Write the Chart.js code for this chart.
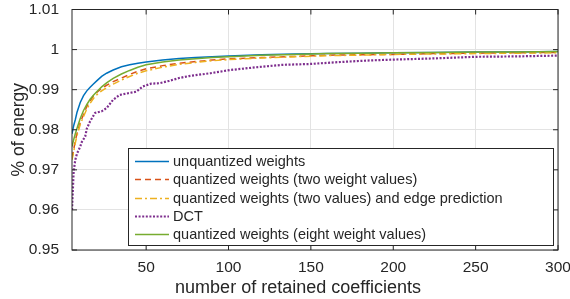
<!DOCTYPE html>
<html>
<head>
<meta charset="utf-8">
<script src="https://cdn.jsdelivr.net/npm/chart.js@4/dist/chart.umd.min.js"></script>
<style>
  html, body { margin: 0; padding: 0; background: #fff; }
  canvas { display: block; }
</style>
</head>
<body>
<canvas id="energyChart" width="570" height="299"></canvas>
<script>
// x positions (number of retained coefficients) for the smooth curves
const nCoeffs = [5, 6, 7, 8, 10, 12, 14, 16, 18, 20, 23, 26, 30, 35, 40, 45, 50, 60, 70, 80, 90, 100, 120, 140, 160, 180, 200, 225, 250, 275, 300];

const unquantized = [0.9790, 0.9810, 0.9825, 0.9843, 0.9868, 0.9885, 0.9897, 0.9906, 0.9914, 0.9922, 0.9933, 0.9941, 0.9949, 0.9957, 0.9962, 0.9966, 0.9969, 0.9974, 0.9978, 0.9980, 0.9982, 0.9984, 0.9987, 0.9989, 0.9990, 0.9991, 0.9992, 0.9993, 0.9994, 0.9994, 0.9995];
const twoValues = [0.9730, 0.9750, 0.9772, 0.9790, 0.9818, 0.9838, 0.9858, 0.9872, 0.9884, 0.9893, 0.9903, 0.9911, 0.9920, 0.9929, 0.9938, 0.9946, 0.9952, 0.9960, 0.9966, 0.9970, 0.9974, 0.9977, 0.9980, 0.9983, 0.9986, 0.9987, 0.9988, 0.9990, 0.9991, 0.9992, 0.9993];
const twoValuesEdge = [0.9725, 0.9745, 0.9767, 0.9785, 0.9813, 0.9833, 0.9852, 0.9866, 0.9878, 0.9887, 0.9897, 0.9905, 0.9914, 0.9924, 0.9933, 0.9941, 0.9947, 0.9956, 0.9963, 0.9968, 0.9972, 0.9975, 0.9979, 0.9982, 0.9985, 0.9986, 0.9988, 0.9989, 0.9990, 0.9991, 0.9992];
const eightValues = [0.9758, 0.9775, 0.9790, 0.9803, 0.9828, 0.9848, 0.9863, 0.9876, 0.9886, 0.9895, 0.9907, 0.9917, 0.9928, 0.9939, 0.9948, 0.9956, 0.9962, 0.9969, 0.9974, 0.9977, 0.9980, 0.9982, 0.9986, 0.9988, 0.9990, 0.9991, 0.9992, 0.9993, 0.9994, 0.9994, 0.9995];

// the DCT curve is bumpier, so it gets its own x positions
const dctN = [5, 6, 7, 8, 10, 11, 13, 14, 16, 19, 23, 26, 30, 34, 39, 44, 48, 53, 58, 64, 70, 76, 89, 101, 117, 133, 149, 168, 186, 200, 225, 250, 275, 300];
const dct = [0.9600, 0.9696, 0.9725, 0.9740, 0.9758, 0.9770, 0.9783, 0.9803, 0.9821, 0.9842, 0.9846, 0.9854, 0.9875, 0.9887, 0.9891, 0.9895, 0.9908, 0.9915, 0.9916, 0.9922, 0.9929, 0.9934, 0.9941, 0.9949, 0.9956, 0.9962, 0.9964, 0.9969, 0.9973, 0.9975, 0.9978, 0.9982, 0.9983, 0.9985];

const xTicks = [50, 100, 150, 200, 250, 300];
const yTicks = [0.95, 0.96, 0.97, 0.98, 0.99, 1.00, 1.01];

const seriesLabels = [
  "unquantized weights",
  "quantized weights (two weight values)",
  "quantized weights (two values) and edge prediction",
  "DCT",
  "quantized weights (eight weight values)"
];
const xTitle = "number of retained coefficients";

const FONT = "'Liberation Sans', Arial, Helvetica, sans-serif";
const AXIS_COLOR = "#262626";

function toPoints(xs, ys) {
  return xs.map((x, i) => ({ x: x, y: ys[i] }));
}

const styles = [
  { color: "#0072BD", dash: [], width: 1.5 },
  { color: "#D95319", dash: [6, 4], width: 1.5 },
  { color: "#EDB120", dash: [7, 3, 2, 3], width: 1.5 },
  { color: "#7E2F8E", dash: [2, 1.6], width: 2.2 },
  { color: "#77AC30", dash: [], width: 1.5 }
];

const datasets = [
  toPoints(nCoeffs, unquantized),
  toPoints(nCoeffs, twoValues),
  toPoints(nCoeffs, twoValuesEdge),
  toPoints(dctN, dct),
  toPoints(nCoeffs, eightValues)
].map((pts, i) => ({
  label: seriesLabels[i],
  data: pts,
  borderColor: styles[i].color,
  borderDash: styles[i].dash,
  borderWidth: styles[i].width,
  pointRadius: 0,
  tension: 0,
  fill: false,
  order: 4 - i
}));

// box, inward ticks, legend and x title drawn on top of the lines
const framePlugin = {
  id: "frame",
  afterDatasetsDraw(chart) {
    const { ctx, chartArea: a, scales } = chart;
    ctx.save();
    ctx.strokeStyle = AXIS_COLOR;
    ctx.lineWidth = 1;
    ctx.setLineDash([]);
    ctx.strokeRect(a.left, a.top, a.right - a.left, a.bottom - a.top);

    const seg = (x1, y1, x2, y2) => {
      ctx.beginPath(); ctx.moveTo(x1, y1); ctx.lineTo(x2, y2); ctx.stroke();
    };
    xTicks.forEach(v => {
      const x = scales.x.getPixelForValue(v);
      seg(x, a.bottom, x, a.bottom - 5);
      seg(x, a.top, x, a.top + 5);
    });
    yTicks.forEach(v => {
      const y = scales.y.getPixelForValue(v);
      seg(a.left, y, a.left + 5, y);
      seg(a.right, y, a.right - 5, y);
    });

    // x axis title (sits a little left of the axis centre in the original)
    ctx.fillStyle = AXIS_COLOR;
    ctx.font = "18px " + FONT;
    ctx.textAlign = "center";
    ctx.textBaseline = "middle";
    ctx.fillText(xTitle, 298, 288);

    // legend
    const lx = 128, ly = 148, lw = 425, lh = 97;
    ctx.fillStyle = "#fff";
    ctx.fillRect(lx, ly, lw, lh);
    ctx.strokeStyle = AXIS_COLOR;
    ctx.strokeRect(lx + 0.5, ly + 0.5, lw, lh);
    ctx.font = "14.5px " + FONT;
    ctx.textAlign = "left";
    seriesLabels.forEach((label, i) => {
      const y = Math.round(160.7 + i * 18.4) + 0.5;
      ctx.strokeStyle = styles[i].color;
      ctx.lineWidth = styles[i].width;
      ctx.setLineDash(styles[i].dash);
      seg(135, y, 169, y);
      ctx.fillStyle = AXIS_COLOR;
      ctx.fillText(label, 173, y);
    });
    ctx.restore();
  }
};

new Chart(document.getElementById("energyChart"), {
  type: "line",
  data: { datasets: datasets },
  options: {
    responsive: false,
    animation: false,
    devicePixelRatio: 1,
    layout: { padding: { top: 9.5, right: 12, left: 0, bottom: 1 } },
    plugins: { legend: { display: false }, tooltip: { enabled: false } },
    scales: {
      x: {
        type: "linear",
        min: 5,
        max: 300,
        afterBuildTicks: s => { s.ticks = xTicks.map(v => ({ value: v })); },
        afterFit: s => { s.height = 48; s.paddingLeft = 0; s.paddingRight = 0; },
        grid: { color: "#e3e3e3", drawTicks: false },
        border: { display: false },
        ticks: { color: AXIS_COLOR, font: { family: FONT, size: 15.5 }, padding: 8, maxRotation: 0 }
      },
      y: {
        min: 0.95,
        max: 1.01,
        afterBuildTicks: s => { s.ticks = yTicks.map(v => ({ value: v })); },
        afterFit: s => { s.width = 72; s.paddingTop = 0; s.paddingBottom = 0; },
        grid: { color: "#e3e3e3", drawTicks: false },
        border: { display: false },
        ticks: { color: AXIS_COLOR, font: { family: FONT, size: 15.5 }, padding: 13, callback: v => String(+v.toFixed(2)) },
        title: { display: true, text: "% of energy", color: AXIS_COLOR, font: { family: FONT, size: 17.5 }, padding: { top: 8.5, bottom: 0 } }
      }
    }
  },
  plugins: [framePlugin]
});
</script>
</body>
</html>
